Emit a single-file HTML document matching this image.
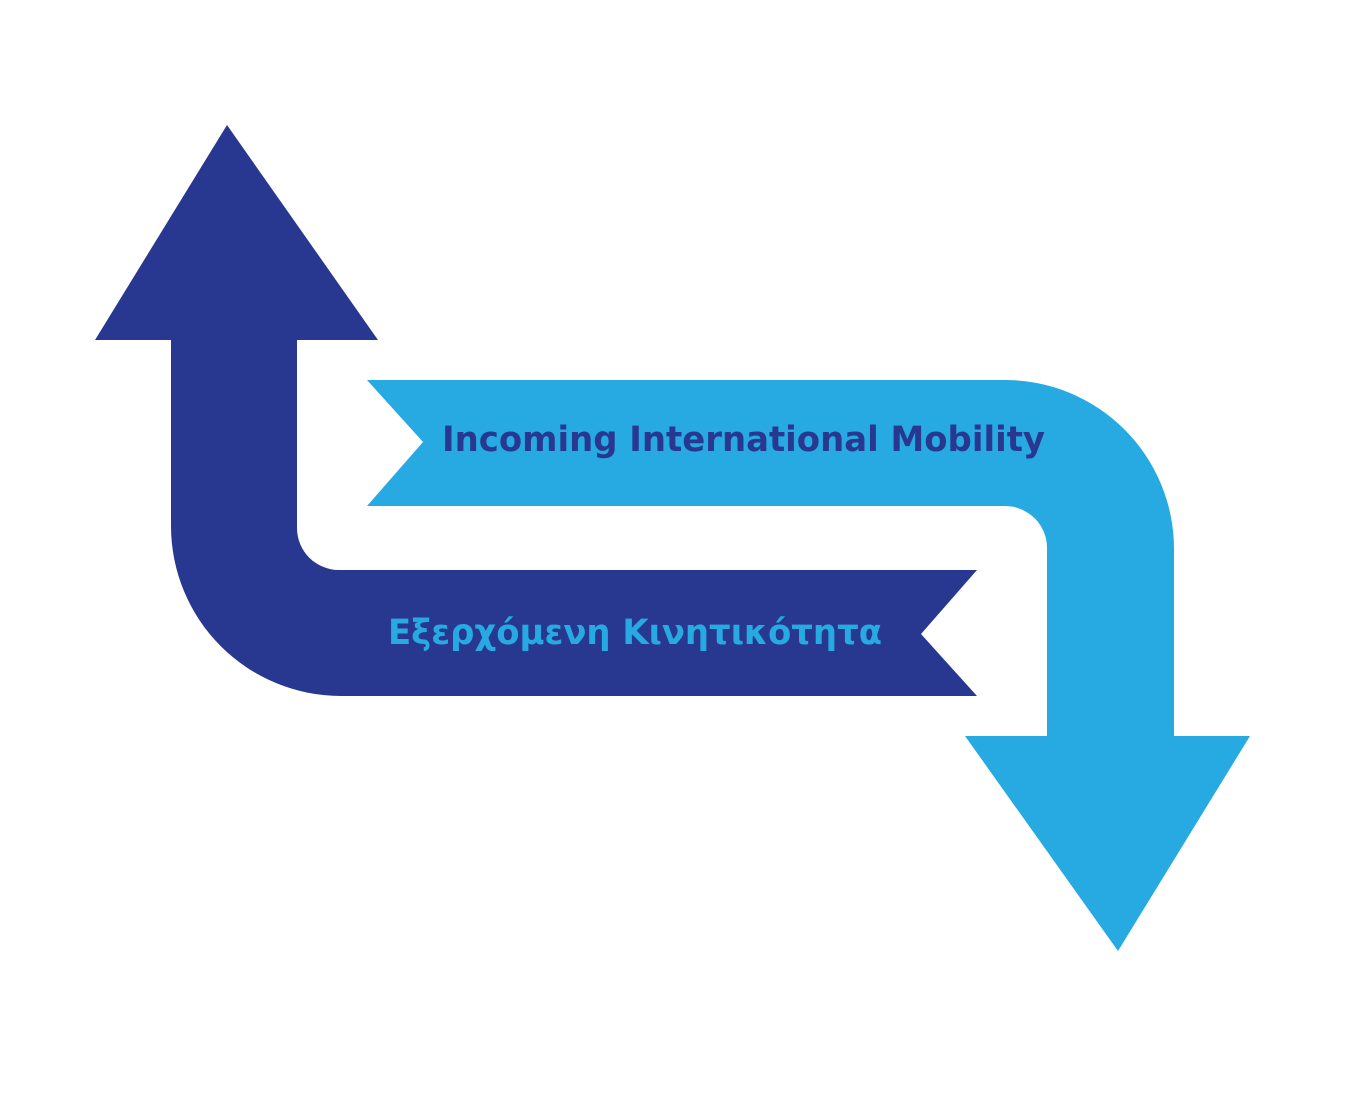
<!DOCTYPE html>
<html><head><meta charset="utf-8"><style>html,body{margin:0;padding:0;background:#fff}svg{display:block}</style></head>
<body>
<svg width="1360" height="1093" viewBox="0 0 1360 1093" xmlns="http://www.w3.org/2000/svg">
<path fill="#283891" d="M227 125 L378 340 L297 340 L297 528 A42 42 0 0 0 339 570 L977 570 L921 634 L977 696 L341 696 A170 170 0 0 1 171 526 L171 340 L95 340 Z"/>
<path fill="#27aae1" d="M367 380 L1005 380 A169 169 0 0 1 1174 549 L1174 736 L1250 736 L1118 951 L965 736 L1047 736 L1047 548 A42 42 0 0 0 1005 506 L367 506 L423 442 Z"/>
<text x="442" y="451" font-family="DejaVu Sans, Liberation Sans, sans-serif" font-weight="bold" font-size="35" fill="#283891" textLength="603" lengthAdjust="spacingAndGlyphs">Incoming International Mobility</text>
<text x="388" y="644" font-family="DejaVu Sans, Liberation Sans, sans-serif" font-weight="bold" font-size="35" fill="#27aae1" textLength="494" lengthAdjust="spacingAndGlyphs">Εξερχόμενη Κινητικότητα</text>
</svg>
</body></html>
